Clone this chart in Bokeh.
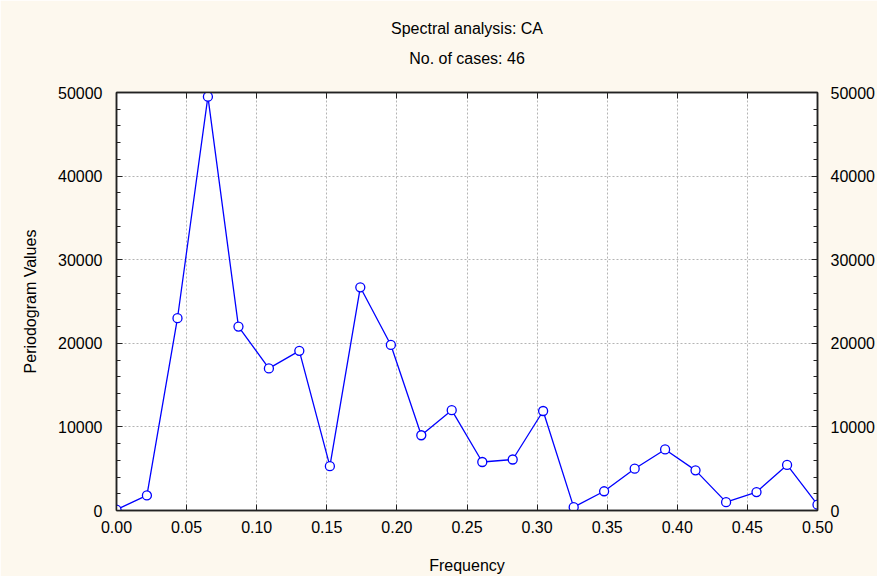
from bokeh.plotting import figure
from bokeh.models import (LinearAxis, FixedTicker, Title, Range1d, NumeralTickFormatter,
                          CustomJSTickFormatter, ColumnDataSource, Grid)
from bokeh.embed import file_html
from bokeh.resources import INLINE

# ---- data ----
frequency = [0.0, 0.0217, 0.0435, 0.0652, 0.0870, 0.1087, 0.1304, 0.1522, 0.1739,
             0.1957, 0.2174, 0.2391, 0.2609, 0.2826, 0.3043, 0.3261, 0.3478, 0.3696,
             0.3913, 0.4130, 0.4348, 0.4565, 0.4783, 0.5000]
periodogram = [100, 1800, 23000, 49500, 22000, 17000, 19100, 5300, 26700, 19800,
               9000, 12000, 5800, 6100, 11900, 400, 2300, 5000, 7300, 4800, 1000,
               2200, 5450, 700]
x_ticks = [0.0, 0.05, 0.10, 0.15, 0.20, 0.25, 0.30, 0.35, 0.40, 0.45, 0.50]
y_ticks = [0, 10000, 20000, 30000, 40000, 50000]
y_minor = [2000, 4000, 6000, 8000, 12000, 14000, 16000, 18000, 22000, 24000, 26000,
           28000, 32000, 34000, 36000, 38000, 42000, 44000, 46000, 48000]
title_main = "Spectral analysis: CA"
title_sub = "No. of cases: 46"
x_label = "Frequency"
y_label = "Periodogram Values"

FONT = "Liberation Sans"
FS = "16px"
BG = "#fdf8ee"

p = figure(width=877, height=576, output_backend="svg", toolbar_location=None,
           title=None, x_range=Range1d(0, 0.5), y_range=Range1d(0, 50000),
           min_border_left=116, min_border_right=60, min_border_top=92,
           min_border_bottom=64, x_axis_type=None, y_axis_type=None)
p.background_fill_color = "white"
p.border_fill_color = BG
p.outline_line_color = "#222222"
p.outline_line_width = 1.5

xt = FixedTicker(ticks=x_ticks)
yt = FixedTicker(ticks=y_ticks, minor_ticks=y_minor)


def style(ax):
    ax.axis_line_color = "#222222"
    ax.axis_line_width = 1.5
    ax.major_tick_in = 6
    ax.major_tick_out = 0
    ax.minor_tick_in = 4
    ax.minor_tick_out = 0
    ax.major_tick_line_color = "#222222"
    ax.minor_tick_line_color = "#222222"
    ax.major_label_text_font = FONT
    ax.major_label_text_font_size = FS
    ax.major_label_text_color = "black"
    ax.major_label_standoff = 13
    ax.axis_label_text_font = FONT
    ax.axis_label_text_font_size = FS
    ax.axis_label_text_font_style = "normal"
    ax.axis_label_text_color = "black"


bottom = LinearAxis(ticker=xt, formatter=NumeralTickFormatter(format="0.00"),
                    axis_label=x_label)
style(bottom)
bottom.minor_tick_in = 0
bottom.major_label_standoff = 10
bottom.axis_label_standoff = 21
p.add_layout(bottom, "below")

left = LinearAxis(ticker=yt, axis_label=y_label)
style(left)
left.major_label_standoff = 14
left.axis_label_standoff = 16
p.add_layout(left, "left")

right = LinearAxis(ticker=yt)
style(right)
p.add_layout(right, "right")

# top frame edge: inward ticks, no tick labels; carries the subtitle line
top = LinearAxis(ticker=xt, formatter=CustomJSTickFormatter(code="return ''"),
                 axis_label=title_sub)
style(top)
top.minor_tick_in = 0
top.major_label_standoff = 0
top.axis_label_standoff = 26
p.add_layout(top, "above")

t1 = Title(text=title_main, align="center", text_font=FONT, text_font_size=FS,
           text_font_style="normal", text_color="black", standoff=20)
p.add_layout(t1, "above")

p.xgrid.visible = False
p.ygrid.visible = False
gx = Grid(dimension=0, ticker=xt, grid_line_color="#b4b4b4", grid_line_dash="2 2",
          grid_line_width=1)
gy = Grid(dimension=1, ticker=yt, grid_line_color="#b4b4b4", grid_line_dash="2 2",
          grid_line_width=1)
p.add_layout(gx)
p.add_layout(gy)

src = ColumnDataSource(dict(x=frequency, y=periodogram))
p.line("x", "y", source=src, line_color="#0000ff", line_width=1.3)
p.scatter("x", "y", source=src, size=9, marker="circle", fill_color="white",
          line_color="#0000ff", line_width=1.3)

open("out.html", "w").write(file_html(p, INLINE))
